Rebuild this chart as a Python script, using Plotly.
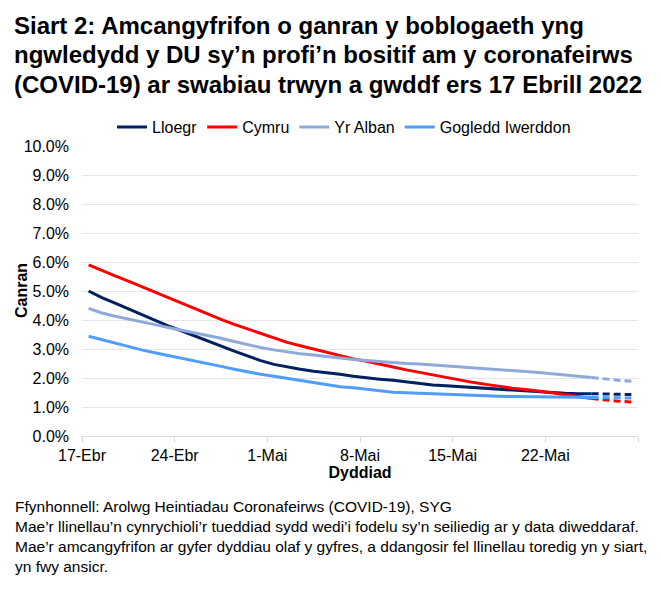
import pandas as pd
import plotly.graph_objects as go

dates = pd.date_range('2022-04-17', '2022-05-28', freq='D')
n_solid = 39  # 17 Ebr - 25 Mai modelled, rest dashed

lloegr = [5.00, 4.77, 4.58, 4.38, 4.18, 3.98, 3.80, 3.63, 3.45, 3.28,
          3.10, 2.93, 2.76, 2.60, 2.47, 2.38, 2.30, 2.23, 2.19, 2.13,
          2.06, 2.00, 1.96, 1.92, 1.86, 1.80, 1.76, 1.73, 1.70, 1.68,
          1.65, 1.61, 1.58, 1.55, 1.52, 1.49, 1.47, 1.46, 1.46, 1.45,
          1.44, 1.43]
cymru = [5.90, 5.70, 5.52, 5.34, 5.15, 4.96, 4.76, 4.57, 4.40, 4.21,
         4.02, 3.85, 3.70, 3.53, 3.38, 3.23, 3.11, 3.00, 2.87, 2.77,
         2.66, 2.58, 2.49, 2.38, 2.28, 2.19, 2.10, 2.02, 1.94, 1.85,
         1.78, 1.71, 1.65, 1.60, 1.55, 1.49, 1.42, 1.35, 1.29, 1.24,
         1.20, 1.17]
alban = [4.40, 4.24, 4.13, 4.04, 3.95, 3.84, 3.74, 3.65, 3.56, 3.47,
         3.37, 3.26, 3.15, 3.05, 2.97, 2.90, 2.84, 2.79, 2.73, 2.69,
         2.64, 2.60, 2.57, 2.53, 2.50, 2.48, 2.45, 2.42, 2.39, 2.36,
         2.33, 2.29, 2.26, 2.23, 2.19, 2.15, 2.11, 2.06, 2.02, 1.96,
         1.92, 1.89]
gogledd_iwerddon = [3.44, 3.32, 3.22, 3.09, 2.97, 2.87, 2.78, 2.69, 2.60, 2.50,
                    2.40, 2.30, 2.21, 2.13, 2.06, 1.99, 1.91, 1.83, 1.76, 1.70,
                    1.66, 1.61, 1.55, 1.51, 1.49, 1.47, 1.45, 1.43, 1.42, 1.40,
                    1.38, 1.37, 1.36, 1.36, 1.35, 1.35, 1.34, 1.34, 1.33, 1.32,
                    1.32, 1.31]

names = ['Lloegr', 'Cymru', 'Yr Alban', 'Gogledd Iwerddon']
series = [lloegr, cymru, alban, gogledd_iwerddon]
colors = ['#002060', '#ff0000', '#8eaadb', '#4f9dff']

tick_labels = ['17-Ebr', '24-Ebr', '1-Mai', '8-Mai', '15-Mai', '22-Mai', '']

title_lines = ['Siart 2: Amcangyfrifon o ganran y boblogaeth yng',
               'ngwledydd y DU sy\u2019n profi\u2019n bositif am y coronafeirws',
               '(COVID-19) ar swabiau trwyn a gwddf ers 17 Ebrill 2022']
footer = ('Ffynhonnell: Arolwg Heintiadau Coronafeirws (COVID-19), SYG<br>'
          'Mae\u2019r llinellau\u2019n cynrychioli\u2019r tueddiad sydd wedi\u2019i fodelu sy\u2019n seiliedig ar y data diweddaraf.<br>'
          'Mae\u2019r amcangyfrifon ar gyfer dyddiau olaf y gyfres, a ddangosir fel llinellau toredig yn y siart,<br>'
          'yn fwy ansicr.')

fig = go.Figure()
for name, vals, col in zip(names, series, colors):
    fig.add_trace(go.Scatter(x=dates[:n_solid], y=vals[:n_solid], name=name, mode='lines',
                             line=dict(color=col, width=3)))
for name, vals, col in zip(names, series, colors):
    fig.add_trace(go.Scatter(x=dates[n_solid - 1:], y=vals[n_solid - 1:], name=name, mode='lines',
                             line=dict(color=col, width=3, dash='7px,4px'), showlegend=False))

# category slots: ticks sit on slot edges, points in the middle
edges = pd.date_range('2022-04-16 12:00', periods=7, freq='7D')

# page body has an 8px margin, so the figure is a little smaller than the window
fig.update_layout(
    width=645, height=582,
    margin=dict(l=74, r=15, t=138, b=153.5, autoexpand=False),
    paper_bgcolor='white', plot_bgcolor='white',
    font=dict(family='Liberation Sans, Arial', size=16, color='#000000'),
    legend=dict(orientation='h', x=0.054, xanchor='left', y=1.065, yanchor='middle',
                font=dict(size=16), itemwidth=30, traceorder='normal'),
    showlegend=True,
)
fig.update_xaxes(type='date', range=[edges[0], edges[-1]], tickvals=edges, ticktext=tick_labels,
                 showgrid=False, showline=True, linecolor='#d9d9d9', linewidth=1,
                 ticks='outside', ticklen=5, tickcolor='#d9d9d9', automargin=False,
                 title=dict(text='<b>Dyddiad</b>', font=dict(size=16), standoff=1))
fig.update_yaxes(range=[0, 10], dtick=1, tickformat='.1f', ticksuffix='%',
                 showgrid=True, gridcolor='#e6e6e6', gridwidth=1, zeroline=False,
                 showline=False, ticklabelstandoff=12, automargin=False)

for i, line in enumerate(title_lines):
    fig.add_annotation(text='<b>' + line + '</b>', xref='paper', yref='paper',
                       x=-70 / 556, y=1 + (121 - 29.5 * i) / 290.5,
                       xanchor='left', yanchor='middle', align='left', showarrow=False,
                       font=dict(size=24))
fig.add_annotation(text='<b>Canran</b>', xref='paper', yref='paper', x=-61 / 556, y=0.5,
                   xanchor='center', yanchor='middle', textangle=-90, showarrow=False,
                   font=dict(size=16))
fig.add_annotation(text=footer, xref='paper', yref='paper', x=-69 / 556, y=-0.208,
                   xanchor='left', yanchor='top', align='left', showarrow=False,
                   font=dict(size=15.5))

fig.write_html('out.html')
